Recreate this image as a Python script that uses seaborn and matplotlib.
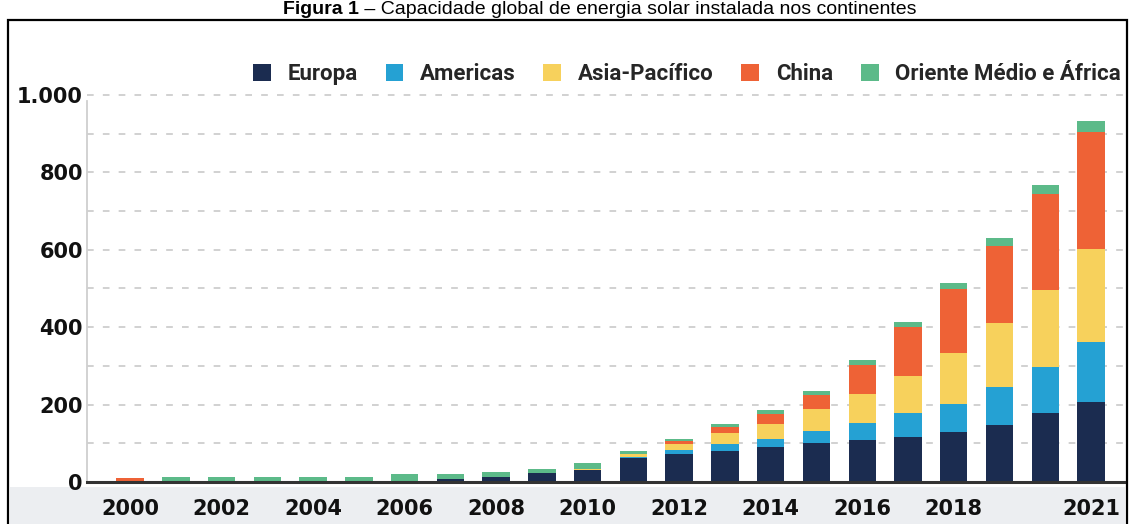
import matplotlib
matplotlib.use("Agg")
import matplotlib.pyplot as plt
from matplotlib.patches import Patch, Rectangle
from matplotlib.font_manager import FontProperties
import seaborn as sns
import pandas as pd

# ---------------- data ----------------
years = [str(y) for y in range(2000, 2022)]
europa =   [0, 0, 0, 0, 0, 0, 0, 8, 13, 23, 31, 62, 72, 80, 90, 101, 109, 116, 129, 147, 178, 207]
americas = [0, 0, 0, 0, 0, 0, 0, 0, 0, 0, 1, 2, 11, 18, 21, 31, 44, 62, 73, 98, 119, 155]
asia_pac = [0, 0, 0, 0, 0, 0, 0, 0, 0, 0, 1, 8, 15, 29, 39, 57, 75, 96, 131, 166, 199, 240]
china =    [10, 0, 0, 0, 0, 0, 0, 0, 0, 0, 1, 1, 8, 15, 26, 36, 75, 127, 166, 199, 248, 302]
oriente =  [0, 13, 13, 13, 13, 13, 20, 13, 13, 11, 16, 7, 5, 8, 10, 10, 11, 12, 15, 20, 23, 29]

series_names = ["Europa", "Americas", "Asia-Pacífico", "China", "Oriente Médio e África"]
series_colors = ["#1b2c50", "#25a1d3", "#f7d15c", "#ee6236", "#5cba89"]

xtick_years = ["2000", "2002", "2004", "2006", "2008", "2010", "2012", "2014", "2016", "2018", "2021"]
ytick_values = [0, 200, 400, 600, 800, 1000]
ytick_labels = ["0", "200", "400", "600", "800", "1.000"]

title_bold = "Figura 1"
title_rest = " \u2013 Capacidade global de energia solar instalada nos continentes"

# ---------------- figure ----------------
sns.set_theme(style="white")
plt.rcParams["font.family"] = ["DejaVu Sans"]

W, H = 1129, 524
fig = plt.figure(figsize=(W / 100, H / 100), dpi=100)
fig.patch.set_facecolor("white")

# grey band under the axis
fig.patches.append(Rectangle((10 / W, 0), (1125 - 10) / W, (H - 487) / H,
                             transform=fig.transFigure, facecolor="#eceef1",
                             edgecolor="none", zorder=-2))
# outer frame
fig.patches.append(Rectangle((8 / W, -0.1), (1127 - 8) / W, (H - 20) / H + 0.1,
                             transform=fig.transFigure, fill=False,
                             edgecolor="black", linewidth=1.6, zorder=-1))

ax = fig.add_axes([87 / W, (H - 482) / H, (1124 - 87) / W, 389 / H])
ax.set_facecolor("none")

df = pd.DataFrame({"ano": years, "Europa": europa, "Americas": americas,
                   "Asia-Pacífico": asia_pac, "China": china,
                   "Oriente Médio e África": oriente})
cum = df[series_names].cumsum(axis=1)

for name, color in reversed(list(zip(series_names, series_colors))):
    sns.barplot(x=df["ano"], y=cum[name], order=years, color=color,
                saturation=1, width=0.6, linewidth=0, errorbar=None, ax=ax,
                zorder=3)

ax.set_xlim(-0.94, 21.72)
ax.set_ylim(0, 1005)
ax.set_xlabel("")
ax.set_ylabel("")

# grid
ax.set_yticks(ytick_values)
ax.set_yticks(list(range(100, 1001, 200)), minor=True)
ax.yaxis.grid(True, which="both", linestyle=(0, (4, 5.5)), color="#c9c9c9",
              linewidth=1.2, zorder=0)
ax.set_axisbelow(True)

ax.set_yticklabels(ytick_labels, fontsize=15, fontweight="bold", color="#111111")
ax.set_xticks([years.index(y) for y in xtick_years])
ax.set_xticklabels(xtick_years, fontsize=15, fontweight="bold", color="#111111")
ax.tick_params(axis="y", which="both", length=0, pad=3)
ax.tick_params(axis="x", length=0, pad=12)

for s in ["top", "right"]:
    ax.spines[s].set_visible(False)
ax.spines["left"].set_color("#cfcfcf")
ax.spines["left"].set_linewidth(1.3)
ax.spines["left"].set_bounds(0, 985)
ax.spines["bottom"].set_color("#333333")
ax.spines["bottom"].set_linewidth(2.2)
ax.spines["bottom"].set_zorder(4)

# legend
handles = [Patch(facecolor=c, edgecolor="none") for c in series_colors]
leg_font = FontProperties(family=["Liberation Sans Narrow", "Roboto", "DejaVu Sans"],
                          weight="bold", size=16)
fig.legend(handles, series_names, loc="center right",
           bbox_to_anchor=(1121 / W, 1 - 74 / H), ncol=5, frameon=False,
           handlelength=0.8, handleheight=0.8, handletextpad=0.75,
           columnspacing=1.25, prop=leg_font, borderaxespad=0, borderpad=0)

# title at the very top
tfont = ["Liberation Sans", "DejaVu Sans"]
base_y = 1 - 14 / H
t1 = fig.text(0, base_y, title_bold, family=tfont, fontweight="bold",
              fontsize=14, va="baseline", ha="left", color="black")
t2 = fig.text(0, base_y, title_rest, family=tfont, fontsize=14,
              va="baseline", ha="left", color="black")
fig.canvas.draw()
r = fig.canvas.get_renderer()
w1 = t1.get_window_extent(renderer=r).width
w2 = t2.get_window_extent(renderer=r).width
x0 = 600 - (w1 + w2) / 2
t1.set_x(x0 / W)
t2.set_x((x0 + w1) / W)

fig.savefig("out.png", dpi=100)
